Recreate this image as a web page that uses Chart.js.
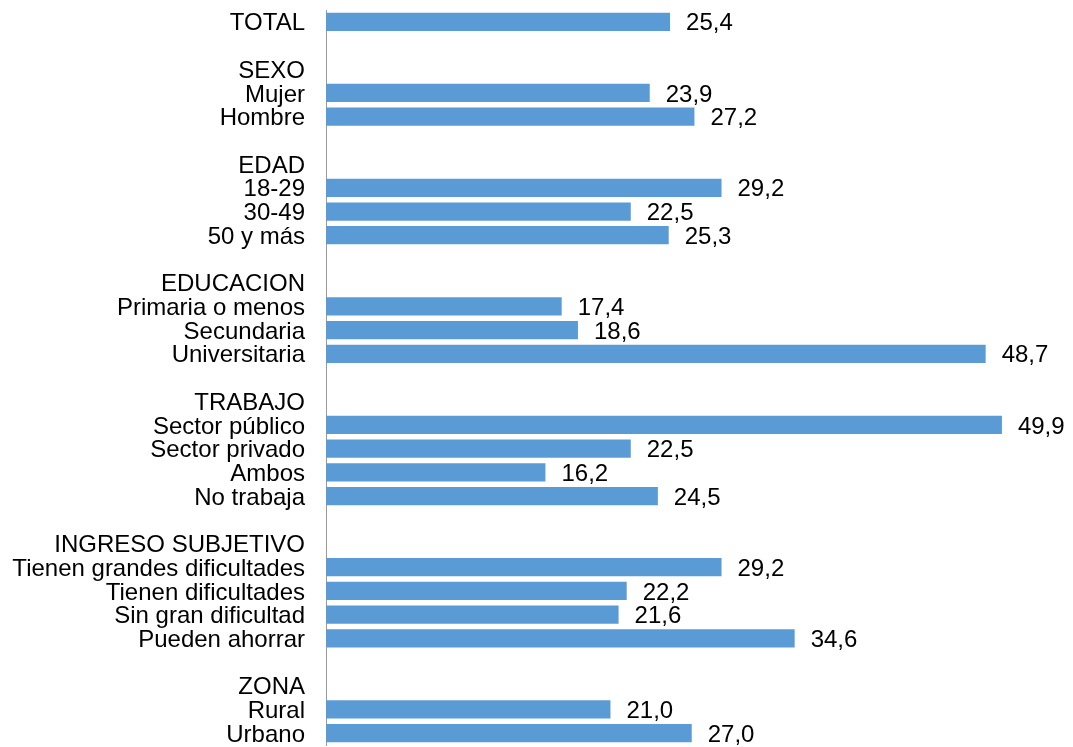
<!DOCTYPE html>
<html>
<head>
<meta charset="utf-8">
<script src="https://cdn.jsdelivr.net/npm/chart.js@4"></script>
<style>
  html, body { margin: 0; padding: 0; background: #fff; }
  #wrap { width: 1073px; height: 747px; }
</style>
</head>
<body>
<div id="wrap"><canvas id="bars"></canvas></div>
<script>
// ── Data ────────────────────────────────────────────
// '' rows are the gaps between groups; header rows have no value
const categories = [
  'TOTAL', '',
  'SEXO', 'Mujer', 'Hombre', '',
  'EDAD', '18-29', '30-49', '50 y más', '',
  'EDUCACION', 'Primaria o menos', 'Secundaria', 'Universitaria', '',
  'TRABAJO', 'Sector público', 'Sector privado', 'Ambos', 'No trabaja', '',
  'INGRESO SUBJETIVO', 'Tienen grandes dificultades', 'Tienen dificultades', 'Sin gran dificultad', 'Pueden ahorrar', '',
  'ZONA', 'Rural', 'Urbano'
];

const values = [
  25.4, null,
  null, 23.9, 27.2, null,
  null, 29.2, 22.5, 25.3, null,
  null, 17.4, 18.6, 48.7, null,
  null, 49.9, 22.5, 16.2, 24.5, null,
  null, 29.2, 22.2, 21.6, 34.6, null,
  null, 21.0, 27.0
];

const fmt = v => v.toFixed(1).replace('.', ',');
const FONT = "'Liberation Sans', Arial, sans-serif";

// draws the value next to the end of each bar
const valueLabels = {
  id: 'valueLabels',
  afterDatasetsDraw(chart) {
    const ctx = chart.ctx;
    const meta = chart.getDatasetMeta(0);
    ctx.save();
    ctx.font = '24px ' + FONT;
    ctx.fillStyle = '#000';
    ctx.textAlign = 'left';
    ctx.textBaseline = 'middle';
    meta.data.forEach((bar, i) => {
      const v = values[i];
      if (v === null) return;
      ctx.fillText(fmt(v), bar.x + 16, bar.y + 2);
    });
    ctx.restore();
  }
};

new Chart(document.getElementById('bars'), {
  type: 'bar',
  data: {
    labels: categories,
    datasets: [{
      data: values,
      backgroundColor: '#5B9BD5',
      borderWidth: 0,
      barPercentage: 0.77,
      categoryPercentage: 1.0
    }]
  },
  options: {
    indexAxis: 'y',
    responsive: true,
    maintainAspectRatio: false,
    animation: false,
    layout: { padding: { top: 10, bottom: 2, right: 2, left: 0 } },
    plugins: {
      legend: { display: false },
      tooltip: { enabled: false }
    },
    scales: {
      x: {
        display: false,
        min: 0,
        max: 55
      },
      y: {
        grid: { display: false },
        border: { display: true, color: '#9a9a9a', width: 1 },
        ticks: {
          color: '#000',
          padding: 13,
          labelOffset: 2,
          autoSkip: false,
          font: { family: FONT, size: 24 }
        },
        afterFit(scale) {
          scale.width = 326;
          // no extra room for half labels at the ends
          scale.paddingTop = 0;
          scale.paddingBottom = 0;
        }
      }
    }
  },
  plugins: [valueLabels]
});
</script>
</body>
</html>
